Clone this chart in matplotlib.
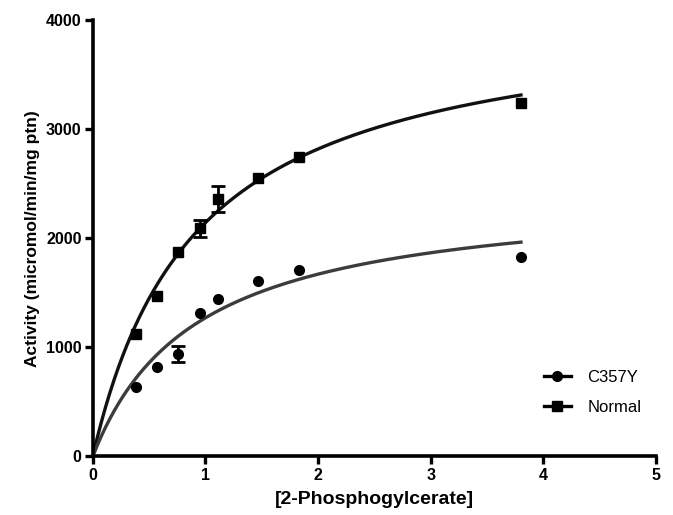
import matplotlib
matplotlib.use("Agg")
import matplotlib.pyplot as plt
import numpy as np

plt.rcParams['font.family'] = ['Liberation Sans', 'DejaVu Sans']

# substrate concentrations
conc = [0.38, 0.57, 0.76, 0.95, 1.11, 1.47, 1.83, 3.8]

# measured activity (means) and visible errors (0 = hidden behind marker)
normal_mean = [1120, 1470, 1870, 2090, 2360, 2555, 2745, 3237]
normal_err = [0, 0, 0, 80, 120, 0, 0, 0]
c357y_mean = [640, 823, 940, 1315, 1446, 1611, 1707, 1826]
c357y_err = [0, 0, 70, 0, 0, 0, 0, 0]

# Michaelis-Menten fit parameters
normal_vmax, normal_km = 4115, 0.92
c357y_vmax, c357y_km = 2440, 0.92

fig = plt.figure(figsize=(6.73, 5.15), dpi=100)
ax = fig.add_axes([0.1378, 0.1136, 0.8372, 0.8475])

xs = np.linspace(0, max(conc), 300)
ax.plot(xs, normal_vmax * xs / (normal_km + xs), color='#111111', lw=2.4, zorder=2)
ax.plot(xs, c357y_vmax * xs / (c357y_km + xs), color='#3c3c3c', lw=2.4, zorder=2)

for mean, err, mk in [(c357y_mean, c357y_err, 'o'), (normal_mean, normal_err, 's')]:
    ax.plot(conc, mean, mk, color='black', ms=7, zorder=3)
    idx = [i for i, e in enumerate(err) if e > 0]
    ax.errorbar([conc[i] for i in idx], [mean[i] for i in idx],
                yerr=[err[i] for i in idx], fmt='none', ecolor='black',
                elinewidth=2, capsize=5, capthick=2, zorder=3)

# legend handles
h1, = ax.plot([], [], color='black', lw=2.4, marker='o', ms=7)
h2, = ax.plot([], [], color='black', lw=2.4, marker='s', ms=7)
ax.legend([h1, h2], ['C357Y', 'Normal'], loc='lower right', frameon=False,
          fontsize=12, handlelength=1.6, handletextpad=1.0, labelspacing=0.9,
          bbox_to_anchor=(1.0, 0.06))

ax.set_xlim(0, 5)
ax.set_ylim(0, 4000)
ax.set_xticks([0, 1, 2, 3, 4, 5])
ax.set_yticks([0, 1000, 2000, 3000, 4000])

for s in ['top', 'right']:
    ax.spines[s].set_visible(False)
for s in ['left', 'bottom']:
    ax.spines[s].set_linewidth(2.6)

ax.tick_params(width=2.4, length=6, labelsize=11.5, pad=2)
for lab in ax.get_xticklabels() + ax.get_yticklabels():
    lab.set_fontweight('bold')

ax.set_xlabel('[2-Phosphogylcerate]', fontsize=14, fontweight='bold', labelpad=6)
ax.set_ylabel('Activity (micromol/min/mg ptn)', fontsize=12.5, fontweight='bold', labelpad=4)

fig.savefig('out.png', dpi=100)
